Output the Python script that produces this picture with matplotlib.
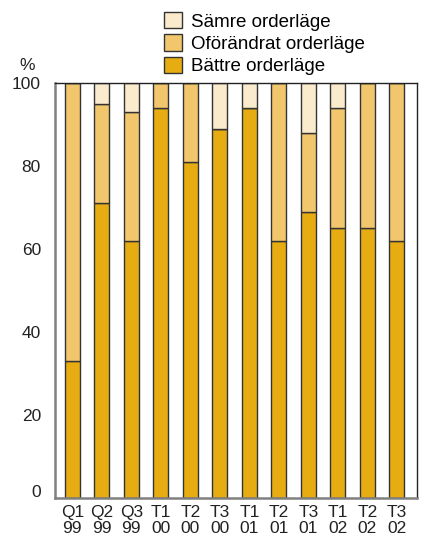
import matplotlib
matplotlib.use("Agg")
import matplotlib.pyplot as plt
import matplotlib.patches as mpatches
import matplotlib.transforms as mtransforms
import numpy as np

plt.rcParams["font.family"] = ["Liberation Sans", "DejaVu Sans"]

# ── data ──────────────────────────────────────────────────────────────────────
periods = ["Q1\n99", "Q2\n99", "Q3\n99", "T1\n00", "T2\n00", "T3\n00",
           "T1\n01", "T2\n01", "T3\n01", "T1\n02", "T2\n02", "T3\n02"]
battre     = [33, 71, 62, 94, 81, 89, 94, 62, 69, 65, 65, 62]
oforandrat = [67, 24, 31, 6, 19, 0, 0, 38, 19, 29, 35, 38]
samre      = [0, 5, 7, 0, 0, 11, 6, 0, 12, 6, 0, 0]

C_BATTRE = "#E6AC12"
C_OFOR = "#F1C66C"
C_SAMRE = "#FBEBCD"

fig = plt.figure(figsize=(4.22, 5.36), dpi=100)
ax = fig.add_axes([0.130, 0.071, 0.858, 0.774])

x = np.arange(len(periods))
w = 0.5
edge = dict(edgecolor="#333333", linewidth=1.0)
b = np.array(battre)
o = np.array(oforandrat)
s = np.array(samre)

ax.bar(x, b, w, color=C_BATTRE, **edge)
ax.bar(x, o, w, bottom=b, color=C_OFOR, **edge)
ax.bar(x, s, w, bottom=b + o, color=C_SAMRE, **edge)

ax.set_xlim(-0.59, 11.68)
ax.set_ylim(0, 100)
ax.set_yticks([0, 20, 40, 60, 80, 100])
ax.set_xticks(x)
ax.set_xticklabels(periods, fontsize=12.5, linespacing=1.12)
ax.tick_params(axis="both", length=0, labelsize=12.5, colors="#222222")
ax.tick_params(axis="x", pad=5)
ax.tick_params(axis="y", pad=10)

# the "0" label sits a bit above the baseline in the original
lbl0 = ax.get_yticklabels()[0]
lbl0.set_transform(lbl0.get_transform() +
                   mtransforms.ScaledTranslation(0, 7 / 100, fig.dpi_scale_trans))

for side in ["left", "bottom"]:
    ax.spines[side].set_color("#808080")
    ax.spines[side].set_linewidth(1.8)
for side in ["top", "right"]:
    ax.spines[side].set_color("#222222")
    ax.spines[side].set_linewidth(1.0)

fig.text(0.064, 0.877, "%", fontsize=12.5, color="#222222", ha="center", va="center")

handles = [
    mpatches.Patch(facecolor=C_SAMRE, edgecolor="#333333", label="Sämre orderläge"),
    mpatches.Patch(facecolor=C_OFOR, edgecolor="#333333", label="Oförändrat orderläge"),
    mpatches.Patch(facecolor=C_BATTRE, edgecolor="#333333", label="Bättre orderläge"),
]
leg = fig.legend(handles=handles, loc="upper left", bbox_to_anchor=(0.36, 1.0),
                 frameon=False, fontsize=13.5, handlelength=0.95, handleheight=0.95,
                 handletextpad=0.5, labelspacing=0.2, borderaxespad=0.25)

plt.savefig("out.png", dpi=100)
